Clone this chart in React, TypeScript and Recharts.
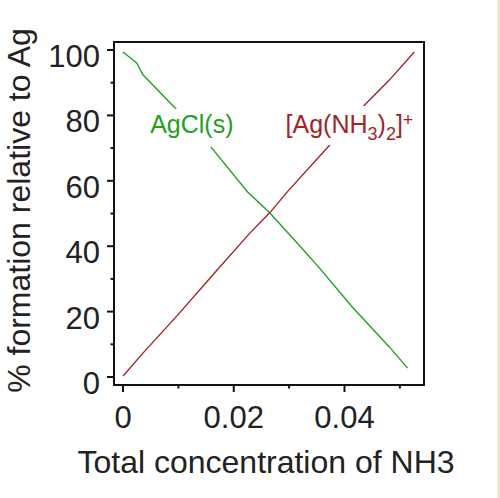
import React from "react";
import { LineChart, Line, XAxis, YAxis, ReferenceArea, ReferenceDot } from "recharts";

// Data
const agclX = [0, 0.0025, 0.0036, 0.0097, 0.0159, 0.0225, 0.0265, 0.0323, 0.0355, 0.0414, 0.0481, 0.0514];
const agclY = [99.4, 96.0, 92.4, 81.7, 70.3, 56.6, 50.2, 39.4, 33.3, 21.4, 9.2, 2.7];
const complexX = [0, 0.0036, 0.0099, 0.0162, 0.0229, 0.0265, 0.0295, 0.0373, 0.0431, 0.0481, 0.0526];
const complexY = [0.3, 7.3, 19.0, 31.2, 44.0, 50.2, 56.3, 70.9, 82.3, 90.8, 99.4];

const xTicks = [0, 0.01, 0.02, 0.03, 0.04, 0.05];
const xLabeled = [0, 0.02, 0.04];
const yTicks = [0, 10, 20, 30, 40, 50, 60, 70, 80, 90, 100];
const yLabeled = [0, 20, 40, 60, 80, 100];

const X_DOMAIN: [number, number] = [-0.00163, 0.05436];
const Y_DOMAIN: [number, number] = [-2.45, 102.45];

const agclData = agclX.map((x, i) => ({ x, y: agclY[i] }));
const complexData = complexX.map((x, i) => ({ x, y: complexY[i] }));

const GREEN = "#22a022";
const RED = "#a32424";
const FONT = "'Liberation Sans', Arial, sans-serif";

const XTick = (props: any) => {
  const { x, y, payload } = props;
  const v = payload.value;
  const major = xLabeled.some((t) => Math.abs(t - v) < 1e-9);
  return (
    <g>
      <line x1={x} x2={x} y1={y} y2={y + (major ? 7 : 3.5)} stroke="#111" strokeWidth={2} />
      {major && (
        <text x={x} y={y + 43} textAnchor="middle" fontSize={31} fill="#222" fontFamily={FONT}>
          {String(v)}
        </text>
      )}
    </g>
  );
};

const YTick = (props: any) => {
  const { x, y, payload } = props;
  const v = payload.value;
  const major = yLabeled.includes(v);
  return (
    <g>
      <line x1={x} x2={x - (major ? 7 : 3.5)} y1={y} y2={y} stroke="#111" strokeWidth={2} />
      {major && (
        <text x={x - 14} y={y + 17} textAnchor="end" fontSize={31} fill="#222" fontFamily={FONT}>
          {String(v)}
        </text>
      )}
    </g>
  );
};

const YTitle = (props: any) => {
  const vb = props.viewBox || { x: 0, y: 42, width: 114, height: 343 };
  const cx = vb.x + 30;
  const cy = vb.y + vb.height / 2 - 3;
  return (
    <text
      x={cx}
      y={cy}
      transform={`rotate(-90, ${cx}, ${cy})`}
      textAnchor="middle"
      fontSize={32}
      fill="#222"
      fontFamily={FONT}
    >
      % formation relative to Ag
    </text>
  );
};

const XTitle = (props: any) => {
  const vb = props.viewBox || { x: 114, y: 385, width: 310, height: 113 };
  return (
    <text
      x={vb.x + vb.width / 2 - 3}
      y={vb.y + 88}
      textAnchor="middle"
      fontSize={32}
      fill="#222"
      fontFamily={FONT}
    >
      Total concentration of NH3
    </text>
  );
};

const AgClLabel = (props: any) => {
  const { cx, cy } = props;
  return (
    <g>
      <rect x={cx - 43} y={cy - 18} width={88} height={38} fill="#fff" />
      <text x={cx} y={cy + 6} textAnchor="middle" fontSize={25} fill={GREEN} fontFamily={FONT}>
        AgCl(s)
      </text>
    </g>
  );
};

const ComplexLabel = (props: any) => {
  const { cx, cy } = props;
  const left = cx - 65;
  return (
    <g>
      <rect x={left - 2} y={cy - 19} width={136} height={39} fill="#fff" />
      <text x={left} y={cy + 8} fontSize={25} fill={RED} fontFamily={FONT}>
        [Ag(NH
        <tspan fontSize={18} dy={7}>3</tspan>
        <tspan dy={-7}>)</tspan>
        <tspan fontSize={18} dy={7}>2</tspan>
        <tspan dy={-7}>]</tspan>
        <tspan fontSize={18} dy={-7}>+</tspan>
      </text>
    </g>
  );
};

export default function App() {
  return (
    <div style={{ position: "absolute", left: 0, top: 0, width: 500, height: 498, background: "#fff" }}>
      <LineChart width={500} height={498} margin={{ top: 42, right: 76, bottom: 0, left: 0 }}>
        <XAxis
          type="number"
          dataKey="x"
          domain={X_DOMAIN}
          allowDataOverflow
          ticks={xTicks}
          interval={0}
          tick={<XTick />}
          tickLine={false}
          tickSize={0}
          tickMargin={0}
          axisLine={false}
          height={113}
          label={<XTitle />}
        />
        <YAxis
          type="number"
          dataKey="y"
          domain={Y_DOMAIN}
          allowDataOverflow
          ticks={yTicks}
          interval={0}
          tick={<YTick />}
          tickLine={false}
          tickSize={0}
          tickMargin={0}
          axisLine={false}
          width={114}
          label={<YTitle />}
        />
        <Line
          data={agclData}
          dataKey="y"
          type="linear"
          stroke={GREEN}
          strokeWidth={1.4}
          dot={false}
          isAnimationActive={false}
        />
        <Line
          data={complexData}
          dataKey="y"
          type="linear"
          stroke={RED}
          strokeWidth={1.4}
          dot={false}
          isAnimationActive={false}
        />
        <ReferenceArea
          x1={X_DOMAIN[0]}
          x2={X_DOMAIN[1]}
          y1={Y_DOMAIN[0]}
          y2={Y_DOMAIN[1]}
          fill="none"
          stroke="#111"
          strokeWidth={2}
          ifOverflow="visible"
        />
        <ReferenceDot x={0.01243} y={76.5} r={1} shape={<AgClLabel />} ifOverflow="visible" />
        <ReferenceDot x={0.0411} y={77.1} r={1} shape={<ComplexLabel />} ifOverflow="visible" />
      </LineChart>
      <div style={{ position: "absolute", right: 0, top: 0, width: 3, height: 498, background: "#ece9d8" }} />
    </div>
  );
}
